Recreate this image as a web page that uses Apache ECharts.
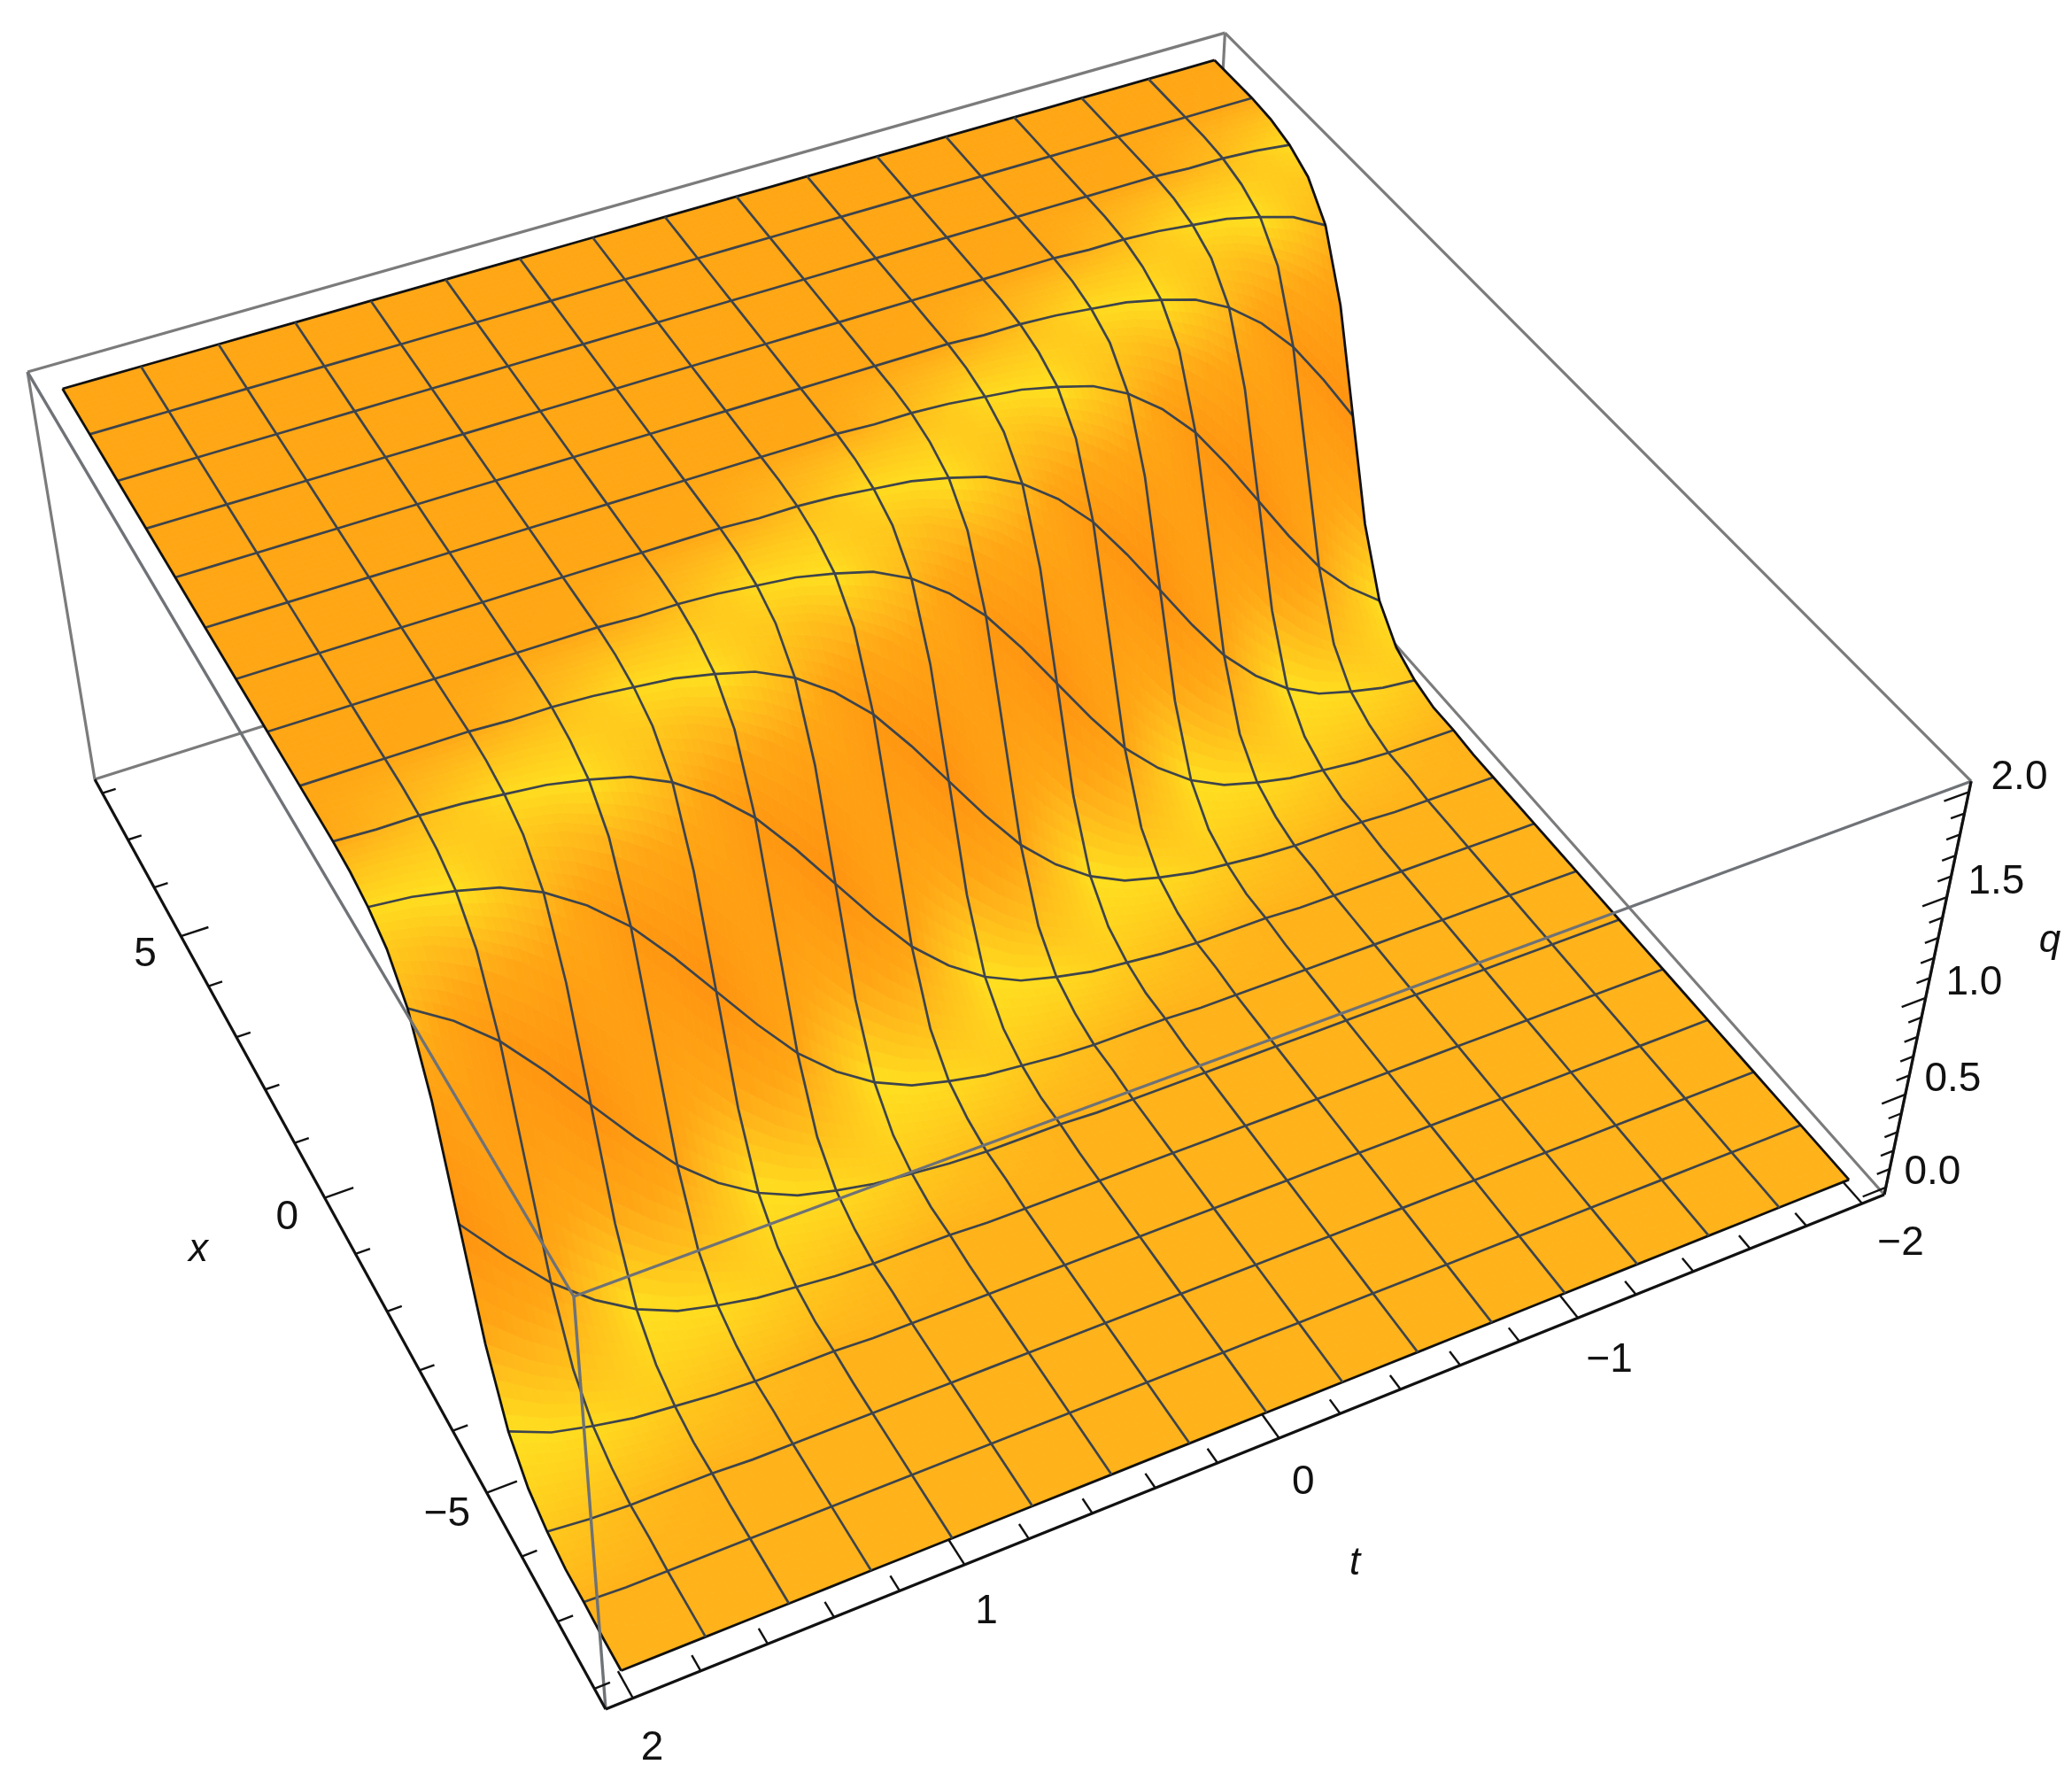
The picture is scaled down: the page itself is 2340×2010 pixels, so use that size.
<!DOCTYPE html>
<html>
<head>
<meta charset="utf-8">
<style>html,body{margin:0;padding:0;background:#fff}#c{width:2340px;height:2010px}</style>
<script src="https://cdn.jsdelivr.net/npm/echarts@6/dist/echarts.min.js"></script>
</head>
<body>
<div id="c"></div>
<script>
// ---- data ----
const tValues = [-2,-1.875,-1.75,-1.625,-1.5,-1.375,-1.25,-1.125,-1,-0.875,-0.75,-0.625,-0.5,-0.375,-0.25,-0.125,0,0.125,0.25,0.375,0.5,0.625,0.75,0.875,1,1.125,1.25,1.375,1.5,1.625,1.75,1.875,2];
const xValues = [-8,-7.5,-7,-6.5,-6,-5.5,-5,-4.5,-4,-3.5,-3,-2.5,-2,-1.5,-1,-0.5,0,0.5,1,1.5,2,2.5,3,3.5,4,4.5,5,5.5,6,6.5,7,7.5,8];
// q height: one row per x value, one column per t value
const qRows = [
[0,0,0,0,0,0,0,0,0,0,0,0,0,0,0,0,0,0,0,0,0,0,0,0,0,0,0,0,0,0,0,0,0],
[0,0,0,0,0,0,0,0,0,0,0,0,0,0,0,0,0,0,0,0,0,0,0,0,0,0,0,0,0,0,0,0,0],
[0,0,0,0,0,0,0,0,0,0,0,0,0,0,0,0,0,0,0,0,0,0,0,0,0,0,0,0,0,0,0,0,.01],
[0,0,0,0,0,0,0,0,0,0,0,0,0,0,0,0,0,0,0,0,0,0,0,0,0,0,0,0,0,0,.01,.01,.01],
[0,0,0,0,0,0,0,0,0,0,0,0,0,0,0,0,0,0,0,0,0,0,0,0,0,0,0,0,.01,.01,.01,.02,.04],
[0,0,0,0,0,0,0,0,0,0,0,0,0,0,0,0,0,0,0,0,0,0,0,0,0,0,.01,.01,.01,.02,.04,.06,.1],
[0,0,0,0,0,0,0,0,0,0,0,0,0,0,0,0,0,0,0,0,0,0,0,0,.01,.01,.01,.02,.04,.06,.1,.15,.24],
[0,0,0,0,0,0,0,0,0,0,0,0,0,0,0,0,0,0,0,0,0,0,.01,.01,.01,.02,.04,.06,.1,.15,.24,.37,.54],
[0,0,0,0,0,0,0,0,0,0,0,0,0,0,0,0,0,0,0,0,.01,.01,.01,.02,.04,.06,.1,.15,.24,.37,.54,.76,1],
[0,0,0,0,0,0,0,0,0,0,0,0,0,0,0,0,0,0,.01,.01,.01,.02,.04,.06,.1,.15,.24,.37,.54,.76,1,1.24,1.46],
[0,0,0,0,0,0,0,0,0,0,0,0,0,0,0,0,.01,.01,.01,.02,.04,.06,.1,.15,.24,.37,.54,.76,1,1.24,1.46,1.63,1.76],
[0,0,0,0,0,0,0,0,0,0,0,0,0,0,.01,.01,.01,.02,.04,.06,.1,.15,.24,.37,.54,.76,1,1.24,1.46,1.63,1.76,1.85,1.9],
[0,0,0,0,0,0,0,0,0,0,0,0,.01,.01,.01,.02,.04,.06,.1,.15,.24,.37,.54,.76,1,1.24,1.46,1.63,1.76,1.85,1.9,1.94,1.96],
[0,0,0,0,0,0,0,0,0,0,.01,.01,.01,.02,.04,.06,.1,.15,.24,.37,.54,.76,1,1.24,1.46,1.63,1.76,1.85,1.9,1.94,1.96,1.98,1.99],
[0,0,0,0,0,0,0,0,.01,.01,.01,.02,.04,.06,.1,.15,.24,.37,.54,.76,1,1.24,1.46,1.63,1.76,1.85,1.9,1.94,1.96,1.98,1.99,1.99,2],
[0,0,0,0,0,0,.01,.01,.01,.02,.04,.06,.1,.15,.24,.37,.54,.76,1,1.24,1.46,1.63,1.76,1.85,1.9,1.94,1.96,1.98,1.99,1.99,2,2,2],
[0,0,0,0,.01,.01,.01,.02,.04,.06,.1,.15,.24,.37,.54,.76,1,1.24,1.46,1.63,1.76,1.85,1.9,1.94,1.96,1.98,1.99,1.99,2,2,2,2,2],
[0,0,.01,.01,.01,.02,.04,.06,.1,.15,.24,.37,.54,.76,1,1.24,1.46,1.63,1.76,1.85,1.9,1.94,1.96,1.98,1.99,1.99,2,2,2,2,2,2,2],
[.01,.01,.01,.02,.04,.06,.1,.15,.24,.37,.54,.76,1,1.24,1.46,1.63,1.76,1.85,1.9,1.94,1.96,1.98,1.99,1.99,2,2,2,2,2,2,2,2,2],
[.01,.02,.04,.06,.1,.15,.24,.37,.54,.76,1,1.24,1.46,1.63,1.76,1.85,1.9,1.94,1.96,1.98,1.99,1.99,2,2,2,2,2,2,2,2,2,2,2],
[.04,.06,.1,.15,.24,.37,.54,.76,1,1.24,1.46,1.63,1.76,1.85,1.9,1.94,1.96,1.98,1.99,1.99,2,2,2,2,2,2,2,2,2,2,2,2,2],
[.1,.15,.24,.37,.54,.76,1,1.24,1.46,1.63,1.76,1.85,1.9,1.94,1.96,1.98,1.99,1.99,2,2,2,2,2,2,2,2,2,2,2,2,2,2,2],
[.24,.37,.54,.76,1,1.24,1.46,1.63,1.76,1.85,1.9,1.94,1.96,1.98,1.99,1.99,2,2,2,2,2,2,2,2,2,2,2,2,2,2,2,2,2],
[.54,.76,1,1.24,1.46,1.63,1.76,1.85,1.9,1.94,1.96,1.98,1.99,1.99,2,2,2,2,2,2,2,2,2,2,2,2,2,2,2,2,2,2,2],
[1,1.24,1.46,1.63,1.76,1.85,1.9,1.94,1.96,1.98,1.99,1.99,2,2,2,2,2,2,2,2,2,2,2,2,2,2,2,2,2,2,2,2,2],
[1.46,1.63,1.76,1.85,1.9,1.94,1.96,1.98,1.99,1.99,2,2,2,2,2,2,2,2,2,2,2,2,2,2,2,2,2,2,2,2,2,2,2],
[1.76,1.85,1.9,1.94,1.96,1.98,1.99,1.99,2,2,2,2,2,2,2,2,2,2,2,2,2,2,2,2,2,2,2,2,2,2,2,2,2],
[1.9,1.94,1.96,1.98,1.99,1.99,2,2,2,2,2,2,2,2,2,2,2,2,2,2,2,2,2,2,2,2,2,2,2,2,2,2,2],
[1.96,1.98,1.99,1.99,2,2,2,2,2,2,2,2,2,2,2,2,2,2,2,2,2,2,2,2,2,2,2,2,2,2,2,2,2],
[1.99,1.99,2,2,2,2,2,2,2,2,2,2,2,2,2,2,2,2,2,2,2,2,2,2,2,2,2,2,2,2,2,2,2],
[2,2,2,2,2,2,2,2,2,2,2,2,2,2,2,2,2,2,2,2,2,2,2,2,2,2,2,2,2,2,2,2,2],
[2,2,2,2,2,2,2,2,2,2,2,2,2,2,2,2,2,2,2,2,2,2,2,2,2,2,2,2,2,2,2,2,2],
[2,2,2,2,2,2,2,2,2,2,2,2,2,2,2,2,2,2,2,2,2,2,2,2,2,2,2,2,2,2,2,2,2]
];
// surface tint at each mesh node (x = -8..8 by 1, t = -2..2 by .25): 0 deep orange, 1 yellow
const tintRows = [
[.5,.5,.5,.5,.5,.5,.5,.5,.5,.5,.5,.5,.5,.5,.5,.5,.5],
[.5,.5,.5,.5,.5,.5,.5,.5,.5,.5,.5,.5,.5,.5,.5,.5,.5],
[.5,.5,.5,.5,.5,.5,.5,.5,.5,.5,.5,.5,.5,.5,.5,.58,.72],
[.5,.5,.5,.5,.5,.5,.5,.5,.5,.5,.5,.5,.5,.58,.72,.9,.95],
[.5,.5,.5,.5,.5,.5,.5,.5,.5,.5,.5,.58,.72,.9,.95,.38,0],
[.5,.5,.5,.5,.5,.5,.5,.5,.5,.58,.72,.9,.95,.38,0,.12,.55],
[.5,.5,.5,.5,.5,.5,.5,.58,.72,.9,.95,.38,0,.12,.55,.95,.9],
[.5,.5,.5,.5,.5,.58,.72,.9,.95,.38,0,.12,.55,.95,.9,.6,.42],
[.5,.5,.5,.58,.72,.9,.95,.38,0,.12,.55,.95,.9,.6,.42,.4,.4],
[.5,.58,.72,.9,.95,.38,0,.12,.55,.95,.9,.6,.42,.4,.4,.4,.4],
[.72,.9,.95,.38,0,.12,.55,.95,.9,.6,.42,.4,.4,.4,.4,.4,.4],
[.95,.38,0,.12,.55,.95,.9,.6,.42,.4,.4,.4,.4,.4,.4,.4,.4],
[0,.12,.55,.95,.9,.6,.42,.4,.4,.4,.4,.4,.4,.4,.4,.4,.4],
[.55,.95,.9,.6,.42,.4,.4,.4,.4,.4,.4,.4,.4,.4,.4,.4,.4],
[.9,.6,.42,.4,.4,.4,.4,.4,.4,.4,.4,.4,.4,.4,.4,.4,.4],
[.42,.4,.4,.4,.4,.4,.4,.4,.4,.4,.4,.4,.4,.4,.4,.4,.4],
[.4,.4,.4,.4,.4,.4,.4,.4,.4,.4,.4,.4,.4,.4,.4,.4,.4]
];
const xTicks = [-8,-7,-6,-5,-4,-3,-2,-1,0,1,2,3,4,5,6,7,8];
const xMajor = [-5,0,5];
const tTicks = [-2,-1.8,-1.6,-1.4,-1.2,-1,-0.8,-0.6,-0.4,-0.2,0,0.2,0.4,0.6,0.8,1,1.2,1.4,1.6,1.8,2];
const tMajor = [-2,-1,0,1,2];
const qTicks = [0,0.1,0.2,0.3,0.4,0.5,0.6,0.7,0.8,0.9,1,1.1,1.2,1.3,1.4,1.5,1.6,1.7,1.8,1.9,2];
const qMajor = [0,0.5,1,1.5,2];
const xLabels = ['\u22125','0','5'];
const tLabels = ['\u22122','\u22121','0','1','2'];
const qLabels = ['0.0','0.5','1.0','1.5','2.0'];
const axisTitles = ['x','t','q'];

// ---- camera: perspective map of the plot box onto the page plane ----
const tBox = [-2.08, 2.08], xBox = [-8.3, 8.3], qBox = [-0.04, 2.05];
const cam = {
  O: [684,1930], U: [2128,1349], V: [107,880], W: [648,1464],
  au: 1.113, av: 1.222, aw: 0.908
};
function projectBox(u, v, w) {
  const O = cam.O, U = cam.U, V = cam.V, W = cam.W;
  const hx = O[0] + u*(cam.au*U[0]-O[0]) + v*(cam.av*V[0]-O[0]) + w*(cam.aw*W[0]-O[0]);
  const hy = O[1] + u*(cam.au*U[1]-O[1]) + v*(cam.av*V[1]-O[1]) + w*(cam.aw*W[1]-O[1]);
  const d = 1 + u*(cam.au-1) + v*(cam.av-1) + w*(cam.aw-1);
  return [hx/d, hy/d];
}
const uOf = t => (tBox[1]-t)/(tBox[1]-tBox[0]);
const vOf = x => (x-xBox[0])/(xBox[1]-xBox[0]);
const wOf = q => (q-qBox[0])/(qBox[1]-qBox[0]);
const project = (t, x, q) => projectBox(uOf(t), vOf(x), wOf(q));

// ---- colours ----
const ramp = [[0,[255,146,16]],[0.4,[255,166,20]],[0.5,[255,178,25]],[1,[255,229,32]]];
function tintColor(s) {
  for (let i = 1; i < ramp.length; i++) {
    if (s <= ramp[i][0]) {
      const a = ramp[i-1], b = ramp[i], f = (s-a[0])/(b[0]-a[0]);
      return 'rgb(' + a[1].map((v,k)=>Math.round(v+(b[1][k]-v)*f)).join(',') + ')';
    }
  }
  return 'rgb(255,229,32)';
}
function tintAt(rm, cm) {
  const r0 = Math.min(Math.floor(rm), tintRows.length-2), c0 = Math.min(Math.floor(cm), tintRows[0].length-2);
  const fr = rm-r0, fc = cm-c0;
  return (tintRows[r0][c0]*(1-fr)+tintRows[r0+1][c0]*fr)*(1-fc) + (tintRows[r0][c0+1]*(1-fr)+tintRows[r0+1][c0+1]*fr)*fc;
}

// ---- marks ----
const nRows = xValues.length, nCols = tValues.length, SUB = 5;
const cellData = [];
for (let r = nRows-2; r >= 0; r--) for (let c = 0; c < nCols-1; c++) cellData.push([r,c]);
function pt(api, r, c) { return api.coord(project(tValues[c], xValues[r], qRows[r][c])); }
function renderCell(params, api) {
  const r = api.value(0), c = api.value(1);
  const a = pt(api,r,c), b = pt(api,r,c+1), d = pt(api,r+1,c), e = pt(api,r+1,c+1);
  const bil = (fr, fc) => [
    (a[0]*(1-fr)+d[0]*fr)*(1-fc)+(b[0]*(1-fr)+e[0]*fr)*fc,
    (a[1]*(1-fr)+d[1]*fr)*(1-fc)+(b[1]*(1-fr)+e[1]*fr)*fc];
  const kids = [];
  for (let i = 0; i < SUB; i++) for (let j = 0; j < SUB; j++) {
    const col = tintColor(tintAt((r+(i+.5)/SUB)/2, (c+(j+.5)/SUB)/2));
    kids.push({type:'polygon', shape:{points:[bil(i/SUB,j/SUB),bil(i/SUB,(j+1)/SUB),bil((i+1)/SUB,(j+1)/SUB),bil((i+1)/SUB,j/SUB)]},
      style:{fill:col, stroke:col, lineWidth:0.8}, silent:true});
  }
  return {type:'group', children:kids};
}
const lineData = [];
for (let r = 0; r < nRows; r += 2) lineData.push([0,r]);
for (let c = 0; c < nCols; c += 2) lineData.push([1,c]);
function renderLine(params, api) {
  const kind = api.value(0), idx = api.value(1), pts = [];
  if (kind === 0) for (let c = 0; c < nCols; c++) pts.push(pt(api,idx,c));
  else for (let r = 0; r < nRows; r++) pts.push(pt(api,r,idx));
  const edge = (idx === 0 || idx === (kind === 0 ? nRows-1 : nCols-1));
  return {type:'polyline', shape:{points:pts}, style:{fill:null, stroke: edge ? '#111' : '#3d444c', lineWidth: edge ? 2.8 : 2.7}, silent:true};
}
const corners = {A:[0,0,0],B:[1,0,0],C:[0,1,0],E:[1,1,0],D:[0,0,1],F:[1,0,1],G:[0,1,1],T:[1,1,1]};
const backEdges = [['C','E'],['E','B'],['E','T'],['G','T'],['T','F'],['G','C'],['F','B']];
const frontEdges = [['G','D'],['D','F'],['D','A']];
const axisEdges = [['C','A'],['A','B'],['B','F']];
function edgeSeries(edges, color, width, z) {
  return {type:'custom', coordinateSystem:'cartesian2d', z:z, clip:false, silent:true, animation:false,
    data: edges.map((e,i)=>[i,0]),
    renderItem:(p,api)=>{
      const e = edges[api.value(0)];
      const a = api.coord(projectBox.apply(null,corners[e[0]])), b = api.coord(projectBox.apply(null,corners[e[1]]));
      return {type:'line', shape:{x1:a[0],y1:a[1],x2:b[0],y2:b[1]}, style:{stroke:color, lineWidth:width}, silent:true};
    }};
}
const has = (arr, v) => arr.some(m => Math.abs(m-v) < 1e-6);
function tickSeries(ticks, pointFn, z) {
  return {type:'custom', coordinateSystem:'cartesian2d', z:z, clip:false, silent:true, animation:false,
    data: ticks.map((v,i)=>[i,0]),
    renderItem:(p,api)=>{
      const seg = pointFn(ticks[api.value(0)]);
      const a = api.coord(seg[0]), b = api.coord(seg[1]);
      return {type:'line', shape:{x1:a[0],y1:a[1],x2:b[0],y2:b[1]}, style:{stroke:'#111', lineWidth:2.4}, silent:true};
    }};
}
function labelSeries(values, labels, pointFn, z) {
  return {type:'custom', coordinateSystem:'cartesian2d', z:z, clip:false, silent:true, animation:false,
    data: values.map((v,i)=>[i,0]),
    renderItem:(p,api)=>{
      const i = api.value(0), a = api.coord(pointFn(values[i], i));
      return {type:'text', x:a[0], y:a[1], style:{text:labels[i], font:'46px "Liberation Sans", Arial, sans-serif', fill:'#111', align:'center', verticalAlign:'middle'}, silent:true};
    }};
}
const nudge = (p, dx, dy) => [p[0]+dx, p[1]+dy];
const xTickSeg = x => { const m = has(xMajor,x) ? .022 : .011; return [projectBox(0,vOf(x),0), projectBox(m,vOf(x),0)]; };
const tTickSeg = t => { const m = has(tMajor,t) ? .024 : .014; return [projectBox(uOf(t),0,0), projectBox(uOf(t),m,0)]; };
const qTickSeg = q => { const m = has(qMajor,q) ? .02 : .011; return [projectBox(1,0,wOf(q)), projectBox(1-m,0,wOf(q))]; };
const tLabelDx = [0,-6,-12,-12,-12];

const chart = echarts.init(document.getElementById('c'), null, {renderer:'canvas', width:2340, height:2010});
chart.setOption({
  animation:false,
  backgroundColor:'#ffffff',
  grid:{left:0,right:0,top:0,bottom:0},
  xAxis:{type:'value',min:0,max:2340,show:false},
  yAxis:{type:'value',min:0,max:2010,inverse:true,show:false},
  series:[
    edgeSeries(backEdges,'#7b7b7b',3.2,1),
    {type:'custom',coordinateSystem:'cartesian2d',z:2,clip:false,silent:true,animation:false,progressive:0,data:cellData,renderItem:renderCell},
    {type:'custom',coordinateSystem:'cartesian2d',z:3,clip:false,silent:true,animation:false,progressive:0,data:lineData,renderItem:renderLine},
    edgeSeries(frontEdges,'#6f7276',3.4,4),
    edgeSeries(axisEdges,'#111',3.2,5),
    tickSeries(xTicks,xTickSeg,5),
    tickSeries(tTicks,tTickSeg,5),
    tickSeries(qTicks,qTickSeg,5),
    labelSeries(xMajor,xLabels,x=>nudge(projectBox(-0.032,vOf(x),0),5,6),6),
    labelSeries(tMajor,tLabels,(t,i)=>nudge(projectBox(uOf(t),-0.047,0),tLabelDx[i],-4),6),
    labelSeries(qMajor,qLabels,q=>nudge(projectBox(1.043,0,wOf(q)),-3,6),6)
  ],
  graphic:[
    {type:'text',x:224,y:1412,z:10,style:{text:axisTitles[0],font:'italic 44px "Liberation Sans", Arial, sans-serif',fill:'#111',align:'center',verticalAlign:'middle'}},
    {type:'text',x:1530,y:1766,z:10,style:{text:axisTitles[1],font:'italic 44px "Liberation Sans", Arial, sans-serif',fill:'#111',align:'center',verticalAlign:'middle'}},
    {type:'text',x:2315,y:1063,z:10,style:{text:axisTitles[2],font:'italic 44px "Liberation Sans", Arial, sans-serif',fill:'#111',align:'center',verticalAlign:'middle'}}
  ]
});
</script>
</body>
</html>
